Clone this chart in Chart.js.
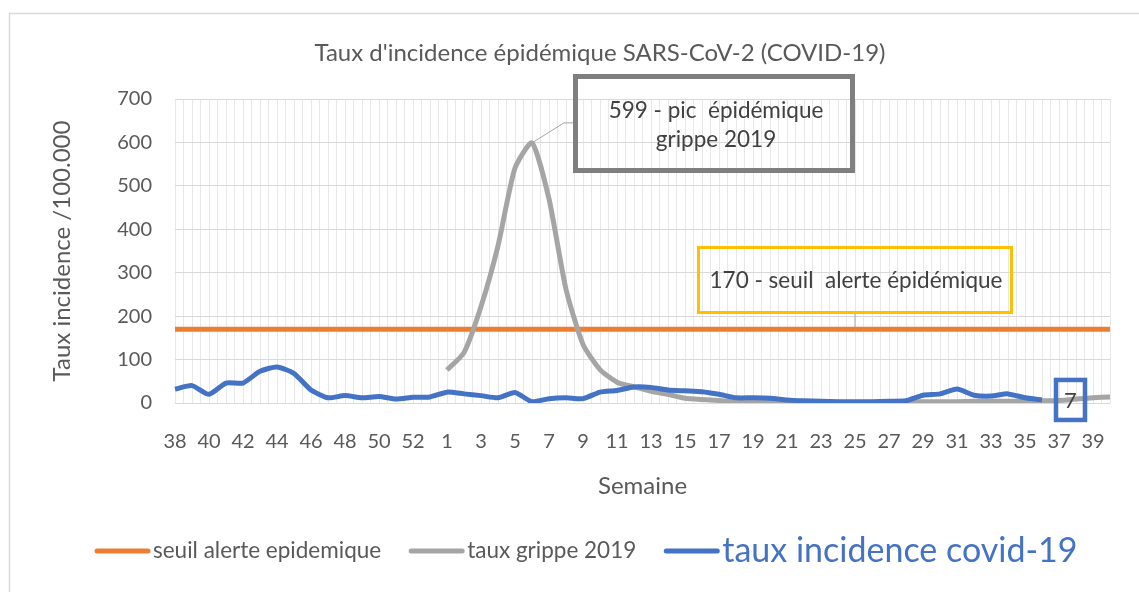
<!DOCTYPE html>
<html lang="fr">
<head>
<meta charset="utf-8">
<title>Taux d'incidence épidémique SARS-CoV-2 (COVID-19)</title>
<script src="https://cdn.jsdelivr.net/npm/chart.js@4.4.1/dist/chart.umd.min.js"></script>
<style>
  html, body { margin: 0; padding: 0; background: #fff; }
  #wrap { position: relative; width: 1139px; height: 592px; }
</style>
</head>
<body>
<div id="wrap"><canvas id="chart-incidence"></canvas></div>
<script>
// Semaines : 38 à 53 (2019), puis 1 à 40 (2020)
const SEMAINES = [
  38, 39, 40, 41, 42, 43, 44, 45, 46, 47, 48, 49, 50, 51, 52, 53,
  1, 2, 3, 4, 5, 6, 7, 8, 9, 10, 11, 12, 13, 14, 15, 16, 17, 18, 19, 20,
  21, 22, 23, 24, 25, 26, 27, 28, 29, 30, 31, 32, 33, 34, 35, 36, 37, 38, 39, 40,
];

// seuil alerte épidémique (constant)
const SEUIL = [
  170, 170, 170, 170, 170, 170, 170, 170, 170, 170, 170, 170, 170, 170, 170, 170,
  170, 170, 170, 170, 170, 170, 170, 170, 170, 170, 170, 170, 170, 170, 170, 170, 170, 170, 170, 170,
  170, 170, 170, 170, 170, 170, 170, 170, 170, 170, 170, 170, 170, 170, 170, 170, 170, 170, 170, 170,
];

// taux grippe 2019 (pas de valeur avant la semaine 1)
const GRIPPE_2019 = [
  null, null, null, null, null, null, null, null, null, null, null, null, null, null, null, null,
  76, 116, 222, 362, 541, 599, 470, 262, 135, 77, 48, 37, 27, 20, 11, 8, 6, 3, 3, 3,
  2, 2, 1, 1, 1, 1, 2, 3, 3, 3, 3, 4, 4, 4, 4, 5, 6, 9, 12, 14,
];

// taux incidence covid-19 (jusqu'à la semaine 36)
const COVID_19 = [
  32, 40, 20, 46, 46, 73, 83, 68, 30, 12, 17, 12, 15, 9, 13, 14,
  25, 21, 17, 12, 24, 3, 10, 12, 10, 25, 29, 37, 36, 30, 28, 26, 20, 12, 12, 11,
  7, 5, 4, 3, 3, 3, 4, 5, 18, 21, 32, 18, 16, 21, 12, 7, null, null, null, null,
];

const Y_MIN = 0;
const Y_MAX = 700;
const Y_STEP = 100;

const COLORS = {
  seuil: '#ed7d31',
  grippe: '#a5a5a5',
  covid: '#4472c4',
  text: '#595959',
  dark: '#404040',
  grid: '#d9d9d9',
  gridLight: '#e8e8e8',
  callout: '#7f7f7f',
  yellow: '#ffc000',
};
const FONT = 'Lato';

/** cadre, titre, légende et étiquettes */
const decorPlugin = {
  id: 'decor',
  beforeDraw(chart) {
    const { ctx } = chart;
    ctx.save();
    ctx.strokeStyle = COLORS.grid;
    ctx.lineWidth = 1.5;
    ctx.strokeRect(9.5, 13.5, 1400, 800);

    ctx.fillStyle = COLORS.text;
    ctx.font = `24px ${FONT}`;
    ctx.textAlign = 'center';
    ctx.textBaseline = 'middle';
    ctx.fillText("Taux d'incidence épidémique SARS-CoV-2 (COVID-19)", 600, 53);
    ctx.restore();
  },
  afterDraw(chart) {
    const { ctx, scales: { x, y } } = chart;
    ctx.save();
    ctx.textAlign = 'center';
    ctx.textBaseline = 'middle';

    // pic grippe 2019
    const peakVal = Math.max(...GRIPPE_2019.filter((v) => v !== null));
    const peakIdx = GRIPPE_2019.indexOf(peakVal);
    const px = x.getPixelForValue(peakIdx);
    const py = y.getPixelForValue(peakVal);
    ctx.strokeStyle = COLORS.grippe;
    ctx.lineWidth = 1;
    ctx.beginPath();
    ctx.moveTo(px, py);
    ctx.lineTo(px + 32, py - 20);
    ctx.lineTo(px + 42, py - 20);
    ctx.stroke();
    ctx.strokeStyle = COLORS.callout;
    ctx.lineWidth = 5;
    ctx.strokeRect(px + 43.5, 76.5, 277, 94);
    ctx.fillStyle = COLORS.dark;
    ctx.font = `22.5px ${FONT}`;
    ctx.fillText(`${peakVal} - pic  épidémique`, px + 184, 111);
    ctx.fillText('grippe 2019', px + 184, 140);

    // seuil alerte
    const sx = x.getPixelForValue(40);
    const sy = y.getPixelForValue(SEUIL[40]);
    ctx.strokeStyle = COLORS.grippe;
    ctx.lineWidth = 1;
    ctx.beginPath();
    ctx.moveTo(sx, 314);
    ctx.lineTo(sx, sy - 2);
    ctx.stroke();
    ctx.strokeStyle = COLORS.yellow;
    ctx.lineWidth = 3;
    ctx.strokeRect(sx - 156.5, 247.5, 313, 65);
    ctx.fillText(`${SEUIL[40]} - seuil  alerte épidémique`, sx + 1, 281);

    // dernière valeur covid-19
    let last = COVID_19.length - 1;
    while (COVID_19[last] === null) last--;
    const lx = x.getPixelForValue(last) + 28.5;
    const ly = y.getPixelForValue(COVID_19[last]);
    ctx.strokeStyle = COLORS.covid;
    ctx.lineWidth = 4.5;
    ctx.strokeRect(lx - 14.5, ly - 20, 29, 40);
    ctx.font = `22px ${FONT}`;
    ctx.fillText(String(COVID_19[last]), lx, ly + 1);

    // légende
    const sizes = [22.5, 22.5, 34];
    let cx = 95;
    ctx.textAlign = 'left';
    chart.data.datasets.forEach((ds, i) => {
      ctx.strokeStyle = ds.borderColor;
      ctx.lineWidth = 5;
      ctx.lineCap = 'round';
      ctx.beginPath();
      ctx.moveTo(cx + 2, 551);
      ctx.lineTo(cx + 53, 551);
      ctx.stroke();
      ctx.font = `${sizes[i]}px ${FONT}`;
      ctx.fillStyle = i === 2 ? COLORS.covid : COLORS.text;
      ctx.fillText(ds.label, cx + 58, 551);
      cx += 58 + ctx.measureText(ds.label).width + 28;
    });
    ctx.restore();
  },
};

function createIncidenceChart() {
  const ctx = document.getElementById('chart-incidence');
  if (!ctx) return;

  const line = (label, data, color, order) => ({
    label,
    data,
    borderColor: color,
    backgroundColor: color,
    borderWidth: 5,
    pointRadius: 0,
    tension: 0.2,
    spanGaps: false,
    order,
  });

  return new Chart(ctx, {
    type: 'line',
    data: {
      labels: SEMAINES,
      datasets: [
        line('seuil alerte epidemique', SEUIL, COLORS.seuil, 2),
        line('taux grippe 2019', GRIPPE_2019, COLORS.grippe, 1),
        line('taux incidence covid-19', COVID_19, COLORS.covid, 0),
      ],
    },
    options: {
      responsive: true,
      maintainAspectRatio: false,
      animation: false,
      layout: { padding: { left: 40, right: 29, top: 99, bottom: 89 } },
      plugins: {
        legend: { display: false },
        title: { display: false },
        tooltip: { enabled: false },
      },
      scales: {
        x: {
          type: 'category',
          position: 'bottom',
          grid: { display: false },
          border: { display: false },
          ticks: {
            color: COLORS.text,
            font: { family: FONT, size: 20 },
            autoSkip: false,
            maxRotation: 0,
            padding: 19,
            callback: (v, i) => (i % 2 === 0 ? SEMAINES[i] : ''),
          },
          title: {
            display: true,
            text: 'Semaine',
            color: COLORS.text,
            font: { family: FONT, size: 24 },
            padding: { top: 0, bottom: 2 },
          },
          afterFit: (s) => { s.height = 100; },
        },
        xGrid: {
          type: 'linear',
          position: 'bottom',
          min: 0,
          max: SEMAINES.length - 1,
          grid: { color: COLORS.gridLight, drawTicks: false },
          border: { display: false },
          ticks: { display: false, stepSize: 0.5, maxTicksLimit: 500 },
          afterFit: (s) => { s.height = 0; },
        },
        y: {
          min: Y_MIN,
          max: Y_MAX,
          grid: { color: COLORS.grid, drawTicks: false },
          border: { display: false },
          ticks: {
            stepSize: Y_STEP,
            color: COLORS.text,
            font: { family: FONT, size: 20 },
            padding: 23,
          },
          title: {
            display: true,
            text: 'Taux incidence /100.000',
            color: COLORS.text,
            font: { family: FONT, size: 24 },
            padding: { top: 8, bottom: 0 },
          },
          afterFit: (s) => { s.width = 135; },
        },
      },
    },
    plugins: [decorPlugin],
  });
}

createIncidenceChart();
</script>
</body>
</html>
